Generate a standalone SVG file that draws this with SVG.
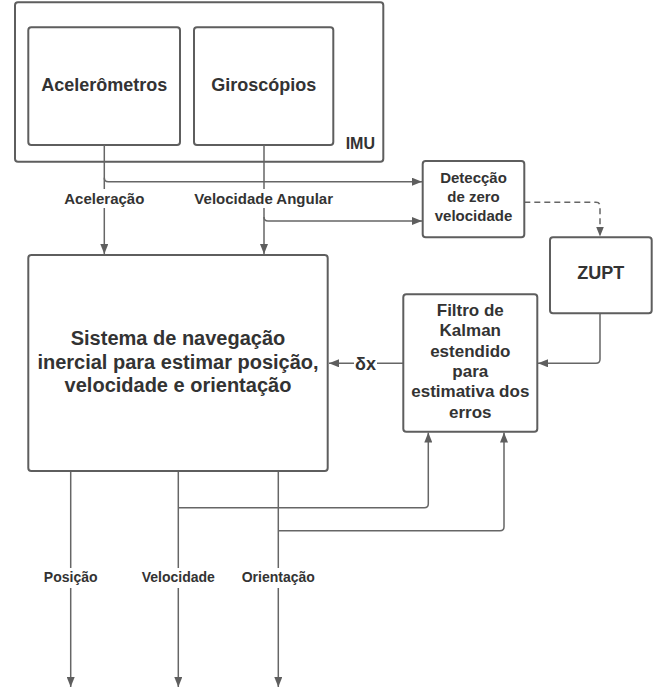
<svg xmlns="http://www.w3.org/2000/svg" width="672" height="692" viewBox="0 0 672 692">
<style>
.box{fill:#fff;stroke:#5e5e5e;stroke-width:2}
.t{font-family:"Liberation Sans",Arial,sans-serif;font-weight:bold;fill:#333;text-anchor:middle}
.c{fill:none;stroke:#666;stroke-width:1.5}
.lbl{fill:#fff;stroke:none}
</style>
<defs>
<marker id="ah" viewBox="0 0 10 8" refX="10" refY="4" markerWidth="10" markerHeight="8" markerUnits="userSpaceOnUse" orient="auto">
<path d="M0,0 L10,4 L0,8 z" fill="#5e5e5e"/>
</marker>
</defs>
<rect width="672" height="692" fill="#fff"/>
<g id="imu">
<rect class="box" x="15" y="2.3" width="368.3" height="159.4" rx="3"/>
<text class="t" x="375" y="149" font-size="16" style="text-anchor:end">IMU</text>
</g>
<g id="acelerometros">
<rect class="box" x="28.3" y="27.3" width="151.7" height="117.7" rx="3"/>
<text class="t" x="104.2" y="91" font-size="18">Acelerômetros</text>
</g>
<g id="giroscopios">
<rect class="box" x="194" y="27.3" width="139.3" height="117.7" rx="3"/>
<text class="t" x="263.7" y="91" font-size="18">Giroscópios</text>
</g>
<g id="connectors">
<path class="c" d="M104.3,145 V254" marker-end="url(#ah)"/>
<path class="c" d="M104.3,177.7 Q104.3,181.7 108.3,181.7 H422" marker-end="url(#ah)"/>
<path class="c" d="M264,145 V254" marker-end="url(#ah)"/>
<path class="c" d="M264,217 Q264,221 268,221 H422" marker-end="url(#ah)"/>
<path class="c" d="M524.3,202.3 H596 Q600,202.3 600,206.3 V236.5" stroke-dasharray="6 4" marker-end="url(#ah)"/>
<path class="c" d="M600,313.3 V359.3 Q600,363.3 596,363.3 H538" marker-end="url(#ah)"/>
<path class="c" d="M403.3,363.3 H329" marker-end="url(#ah)"/>
<path class="c" d="M70.7,471 V687" marker-end="url(#ah)"/>
<path class="c" d="M178.3,471 V687" marker-end="url(#ah)"/>
<path class="c" d="M278.3,471 V687" marker-end="url(#ah)"/>
<path class="c" d="M178.3,507.7 H424.3 Q428.3,507.7 428.3,503.7 V432.5" marker-end="url(#ah)"/>
<path class="c" d="M278.3,530.7 H500 Q504,530.7 504,526.7 V432.5" marker-end="url(#ah)"/>
<rect class="lbl" x="62" y="189" width="85" height="19"/>
<text class="t" x="104.3" y="203.7" font-size="15">Aceleração</text>
<rect class="lbl" x="191" y="189" width="146" height="19"/>
<text class="t" x="263.7" y="203.7" font-size="15">Velocidade Angular</text>
<rect class="lbl" x="354" y="353" width="23" height="20"/>
<text class="t" x="365.5" y="369.5" font-size="18">δx</text>
<rect class="lbl" x="42" y="568" width="58" height="20"/>
<text class="t" x="70.7" y="582" font-size="14">Posição</text>
<rect class="lbl" x="140" y="568" width="77" height="20"/>
<text class="t" x="178.3" y="582" font-size="14">Velocidade</text>
<rect class="lbl" x="241" y="568" width="76" height="20"/>
<text class="t" x="278.3" y="582" font-size="14">Orientação</text>
</g>
<g id="ins">
<rect class="box" x="28.3" y="255" width="299.4" height="216" rx="3"/>
<text class="t" x="178" y="345" font-size="20">Sistema de navegação</text>
<text class="t" x="178" y="368.5" font-size="20">inercial para estimar posição,</text>
<text class="t" x="178" y="392" font-size="20">velocidade e orientação</text>
</g>
<g id="deteccao">
<rect class="box" x="422.7" y="161" width="101.6" height="76.3" rx="3"/>
<text class="t" x="473.5" y="183" font-size="15">Detecção</text>
<text class="t" x="473.5" y="202" font-size="15">de zero</text>
<text class="t" x="473.5" y="220.5" font-size="15">velocidade</text>
</g>
<g id="zupt">
<rect class="box" x="550" y="237.3" width="101.7" height="76" rx="3"/>
<text class="t" x="600.8" y="279" font-size="18">ZUPT</text>
</g>
<g id="kalman">
<rect class="box" x="403.3" y="294.3" width="134" height="137.4" rx="3"/>
<text class="t" x="470.3" y="316" font-size="17">Filtro de</text>
<text class="t" x="470.3" y="336.3" font-size="17">Kalman</text>
<text class="t" x="470.3" y="356.6" font-size="17">estendido</text>
<text class="t" x="470.3" y="376.9" font-size="17">para</text>
<text class="t" x="470.3" y="397.2" font-size="17">estimativa dos</text>
<text class="t" x="470.3" y="417.5" font-size="17">erros</text>
</g>
</svg>
